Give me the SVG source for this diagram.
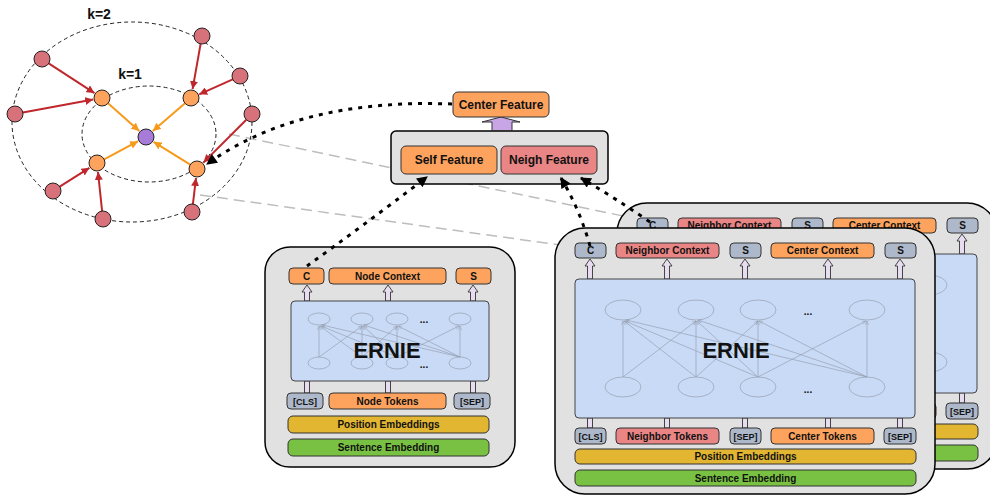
<svg xmlns="http://www.w3.org/2000/svg" xmlns:xlink="http://www.w3.org/1999/xlink" width="990" height="497" viewBox="0 0 990 497">
<style>
.t{font-family:"Liberation Sans",Arial,Helvetica,sans-serif;font-weight:bold;fill:#111;text-anchor:middle}
.s10{font-size:10px}.s9{font-size:9px}.s12{font-size:12px}
.or{fill:#FEA35D;stroke:#333;stroke-width:1}
.rd{fill:#E98585;stroke:#333;stroke-width:1}
.gb{fill:#ADB8CA;stroke:#333;stroke-width:1}
.gd{fill:#E3B632;stroke:#333;stroke-width:1}
.gr{fill:#79C143;stroke:#333;stroke-width:1}
.bl{fill:#C9DAF6;stroke:#444;stroke-width:1}
.ct{fill:#E1E1E1;stroke:#000;stroke-width:1.5}
.ua{fill:#E8DCF0;stroke:#333;stroke-width:0.9}
.ne{fill:none;stroke:#9CA6B8;stroke-width:0.8}
.nl{stroke:#97A1B3;stroke-width:0.7;fill:none;marker-end:url(#ga)}
.rn{fill:#D8727A;stroke:#222;stroke-width:1}
.on{fill:#FEA35D;stroke:#222;stroke-width:1}
.re{stroke:#C0272D;stroke-width:2;fill:none;marker-end:url(#ra)}
.oe{stroke:#F79A1B;stroke-width:2;fill:none;marker-end:url(#oa)}
.dd{stroke:#000;stroke-width:3;fill:none;stroke-dasharray:4 6;marker-end:url(#ba)}
.gl{stroke:#BDBDBD;stroke-width:1.5;stroke-dasharray:11 6;fill:none}
.el{fill:none;stroke:#222;stroke-width:1;stroke-dasharray:4 3}
</style>
<defs>
<marker id="ra" viewBox="0 0 10 10" refX="10" refY="5" markerWidth="4" markerHeight="4" orient="auto" markerUnits="strokeWidth"><path d="M0,0 L10,5 L0,10 z" fill="#C0272D"/></marker>
<marker id="oa" viewBox="0 0 10 10" refX="10" refY="5" markerWidth="4" markerHeight="4" orient="auto" markerUnits="strokeWidth"><path d="M0,0 L10,5 L0,10 z" fill="#F79A1B"/></marker>
<marker id="ba" viewBox="0 0 10 10" refX="9" refY="5" markerWidth="4" markerHeight="3.6" orient="auto" markerUnits="strokeWidth"><path d="M0,0 L10,5 L0,10 z" fill="#000"/></marker>
<marker id="ga" viewBox="0 0 10 10" refX="10" refY="5" markerWidth="6" markerHeight="6" orient="auto" markerUnits="strokeWidth"><path d="M0,1 L10,5 L0,9" fill="none" stroke="#97A1B3" stroke-width="1.2"/></marker>
<g id="rbox">
<rect class="ct" x="555" y="228" width="380" height="266" rx="30"/>
<rect class="gb" x="575" y="243" width="31" height="15" rx="4"/>
<rect class="rd" x="616" y="243" width="103" height="15" rx="4"/>
<rect class="gb" x="730" y="243" width="31" height="15" rx="4"/>
<rect class="or" x="771" y="243" width="103" height="15" rx="4"/>
<rect class="gb" x="885" y="243" width="31" height="15" rx="4"/>
<text class="t s10" x="590.5" y="254">C</text>
<text class="t s10" x="667.5" y="254">Neighbor Context</text>
<text class="t s10" x="745.5" y="254">S</text>
<text class="t s10" x="822.5" y="254">Center Context</text>
<text class="t s10" x="900.5" y="254">S</text>
<path class="ua" d="M590,259 L595,266 L592.5,266 L592.5,279 L587.5,279 L587.5,266 L585,266 Z"/>
<path class="ua" d="M667,259 L672,266 L669.5,266 L669.5,279 L664.5,279 L664.5,266 L662,266 Z"/>
<path class="ua" d="M745,259 L750,266 L747.5,266 L747.5,279 L742.5,279 L742.5,266 L740,266 Z"/>
<path class="ua" d="M828,259 L833,266 L830.5,266 L830.5,279 L825.5,279 L825.5,266 L823,266 Z"/>
<path class="ua" d="M900,259 L905,266 L902.5,266 L902.5,279 L897.5,279 L897.5,266 L895,266 Z"/>
<rect class="ua" x="587.5" y="418" width="5" height="10"/>
<rect class="ua" x="664.5" y="418" width="5" height="10"/>
<rect class="ua" x="742.5" y="418" width="5" height="10"/>
<rect class="ua" x="825.5" y="418" width="5" height="10"/>
<rect class="ua" x="897.5" y="418" width="5" height="10"/>
<rect class="bl" x="575" y="279" width="340" height="139" rx="4"/>
<ellipse class="ne" cx="623" cy="310" rx="18" ry="10"/>
<ellipse class="ne" cx="696" cy="310" rx="18" ry="10"/>
<ellipse class="ne" cx="758" cy="310" rx="18" ry="10"/>
<ellipse class="ne" cx="867" cy="310" rx="18" ry="10"/>
<ellipse class="ne" cx="623" cy="387" rx="18" ry="10"/>
<ellipse class="ne" cx="696" cy="387" rx="18" ry="10"/>
<ellipse class="ne" cx="758" cy="387" rx="18" ry="10"/>
<ellipse class="ne" cx="867" cy="387" rx="18" ry="10"/>
<path class="nl" d="M623,377 L623,321"/>
<path class="nl" d="M623,377 L696,321"/>
<path class="nl" d="M696,377 L624,321"/>
<path class="nl" d="M696,377 L696,321"/>
<path class="nl" d="M696,377 L758,321"/>
<path class="nl" d="M758,377 L625,321"/>
<path class="nl" d="M758,377 L697,321"/>
<path class="nl" d="M758,377 L758,321"/>
<path class="nl" d="M758,377 L866,321"/>
<path class="nl" d="M867,377 L626,320"/>
<path class="nl" d="M867,377 L698,320"/>
<path class="nl" d="M867,377 L759,321"/>
<path class="nl" d="M867,377 L867,321"/>
<text class="t s10" x="808" y="315">...</text>
<text class="t s10" x="808" y="393">...</text>
<text class="t" x="736" y="358" style="font-size:22px">ERNIE</text>
<rect class="gb" x="575" y="428" width="31" height="16" rx="4"/>
<rect class="rd" x="616" y="428" width="103" height="16" rx="4"/>
<rect class="gb" x="730" y="428" width="31" height="16" rx="4"/>
<rect class="or" x="771" y="428" width="103" height="16" rx="4"/>
<rect class="gb" x="884" y="428" width="32" height="16" rx="4"/>
<text class="t s9" x="590.5" y="439.5">[CLS]</text>
<text class="t s10" x="667.5" y="439.5">Neighbor Tokens</text>
<text class="t s9" x="745.5" y="439.5">[SEP]</text>
<text class="t s10" x="822.5" y="439.5">Center Tokens</text>
<text class="t s9" x="900" y="439.5">[SEP]</text>
<rect class="gd" x="575" y="449" width="341" height="15" rx="5"/>
<text class="t s10" x="745.5" y="460">Position Embeddings</text>
<rect class="gr" x="575" y="470" width="341" height="16" rx="5"/>
<text class="t s10" x="745.5" y="481.5">Sentence Embedding</text>
</g>
</defs>

<g id="gray-guides">
<path class="gl" d="M229,134 L628,217"/>
<path class="gl" d="M200,195 L560,245"/>
</g>

<g id="graph">
<ellipse class="el" cx="132" cy="122" rx="120" ry="100"/>
<ellipse class="el" cx="149" cy="134" rx="67" ry="48"/>
<text class="t" x="99" y="19" style="font-size:14px">k=2</text>
<text class="t" x="130" y="79" style="font-size:14px">k=1</text>
<g id="graph-edges">
<path class="re" d="M48.7,63.4 L94.5,93.1"/>
<path class="re" d="M22.9,112.6 L93.2,99.6"/>
<path class="re" d="M59.7,186.7 L89.4,167.8"/>
<path class="re" d="M102.1,211 L98,172"/>
<path class="re" d="M200.6,43.9 L192.6,89.1"/>
<path class="re" d="M232.7,79.3 L199.2,94.3"/>
<path class="re" d="M246.3,119.7 L203.4,162.6"/>
<path class="re" d="M192.9,204.1 L196,178"/>
<path class="oe" d="M108,103.3 L139.3,131"/>
<path class="oe" d="M185,103.2 L152.8,131.1"/>
<path class="oe" d="M104.1,159.3 L138.1,141.2"/>
<path class="oe" d="M190.2,164.7 L153.6,141.8"/>
</g>
<g id="graph-nodes">
<circle class="rn" cx="42" cy="59" r="8"/>
<circle class="rn" cx="15" cy="114" r="8"/>
<circle class="rn" cx="53" cy="191" r="8"/>
<circle class="rn" cx="103" cy="219" r="8"/>
<circle class="rn" cx="202" cy="36" r="8"/>
<circle class="rn" cx="240" cy="76" r="8"/>
<circle class="rn" cx="252" cy="114" r="8"/>
<circle class="rn" cx="192" cy="212" r="8"/>
<circle class="on" cx="102" cy="98" r="8"/>
<circle class="on" cx="191" cy="98" r="8"/>
<circle class="on" cx="97" cy="163" r="8"/>
<circle class="on" cx="197" cy="169" r="8"/>
<circle cx="146" cy="137" r="8" fill="#A77BD8" stroke="#222" stroke-width="1"/>
</g>
</g>

<g id="feature-block">
<rect class="ct" x="391" y="131" width="217" height="53" rx="5"/>
<rect class="or" x="401" y="146" width="96" height="28" rx="5"/>
<text class="t s12" x="449" y="164">Self Feature</text>
<rect class="rd" x="501" y="146" width="96" height="28" rx="5"/>
<text class="t s12" x="549" y="164">Neigh Feature</text>
</g>

<g id="center-feature">
<path d="M501,117 L520,122 L512,122 L512,130.5 L492,130.5 L492,122 L482,122 Z" fill="#C8A6E6" stroke="#333" stroke-width="1"/>
<rect class="or" x="453" y="92" width="96" height="25" rx="5"/>
<text class="t s12" x="501" y="108.5">Center Feature</text>
</g>

<g id="left-ernie">
<rect class="ct" x="265" y="247" width="250" height="220" rx="25"/>
<rect class="or" x="289" y="268" width="35" height="16" rx="4"/>
<rect class="or" x="329" y="268" width="117" height="16" rx="4"/>
<rect class="or" x="456" y="268" width="35" height="16" rx="4"/>
<text class="t s10" x="306.5" y="279.5">C</text>
<text class="t s10" x="387.5" y="279.5">Node Context</text>
<text class="t s10" x="473.5" y="279.5">S</text>
<path class="ua" d="M307,285 L312,292 L309.5,292 L309.5,301 L304.5,301 L304.5,292 L302,292 Z"/>
<path class="ua" d="M388,285 L393,292 L390.5,292 L390.5,301 L385.5,301 L385.5,292 L383,292 Z"/>
<path class="ua" d="M473,285 L478,292 L475.5,292 L475.5,301 L470.5,301 L470.5,292 L468,292 Z"/>
<rect class="ua" x="304.5" y="381" width="5" height="12"/>
<rect class="ua" x="385.5" y="381" width="5" height="12"/>
<rect class="ua" x="470.5" y="381" width="5" height="12"/>
<rect class="bl" x="291" y="301" width="198" height="80" rx="4"/>
<ellipse class="ne" cx="319" cy="319" rx="11" ry="6"/>
<ellipse class="ne" cx="362" cy="319" rx="11" ry="6"/>
<ellipse class="ne" cx="397" cy="319" rx="11" ry="6"/>
<ellipse class="ne" cx="460" cy="319" rx="11" ry="6"/>
<ellipse class="ne" cx="319" cy="363" rx="11" ry="6"/>
<ellipse class="ne" cx="362" cy="363" rx="11" ry="6"/>
<ellipse class="ne" cx="397" cy="363" rx="11" ry="6"/>
<ellipse class="ne" cx="460" cy="363" rx="11" ry="6"/>
<path class="nl" d="M319,357 L319,326"/>
<path class="nl" d="M319,357 L362,326"/>
<path class="nl" d="M362,357 L320,326"/>
<path class="nl" d="M362,357 L362,326"/>
<path class="nl" d="M362,357 L397,326"/>
<path class="nl" d="M397,357 L321,326"/>
<path class="nl" d="M397,357 L363,326"/>
<path class="nl" d="M397,357 L397,326"/>
<path class="nl" d="M397,357 L459,326"/>
<path class="nl" d="M460,357 L322,325"/>
<path class="nl" d="M460,357 L364,325"/>
<path class="nl" d="M460,357 L398,326"/>
<path class="nl" d="M460,357 L460,326"/>
<text class="t s10" x="424" y="323">...</text>
<text class="t s10" x="424" y="368">...</text>
<text class="t" x="387" y="358" style="font-size:22px">ERNIE</text>
<rect class="gb" x="287" y="393" width="36" height="16" rx="4"/>
<rect class="or" x="329" y="393" width="117" height="16" rx="4"/>
<rect class="gb" x="454" y="393" width="36" height="16" rx="4"/>
<text class="t s9" x="305" y="404.5">[CLS]</text>
<text class="t s10" x="387.5" y="404.5">Node Tokens</text>
<text class="t s9" x="472" y="404.5">[SEP]</text>
<rect class="gd" x="288" y="416" width="201" height="17" rx="5"/>
<text class="t s10" x="388.5" y="428">Position Embeddings</text>
<rect class="gr" x="288" y="439" width="201" height="17" rx="5"/>
<text class="t s10" x="388.5" y="451">Sentence Embedding</text>
</g>

<g id="right-ernie-back"><use xlink:href="#rbox" href="#rbox" transform="translate(62,-25)"/></g>
<g id="right-ernie-front"><use xlink:href="#rbox" href="#rbox"/></g>

<g id="connectors">
<path class="dd" d="M452,104 C370,101 280,112 207,164"/>
<path class="dd" d="M307,266 Q360,228 427,177"/>
<path class="dd" d="M590,246 Q580,210 561,178"/>
<path class="dd" d="M650,222 Q615,198 581,178"/>
</g>
</svg>
